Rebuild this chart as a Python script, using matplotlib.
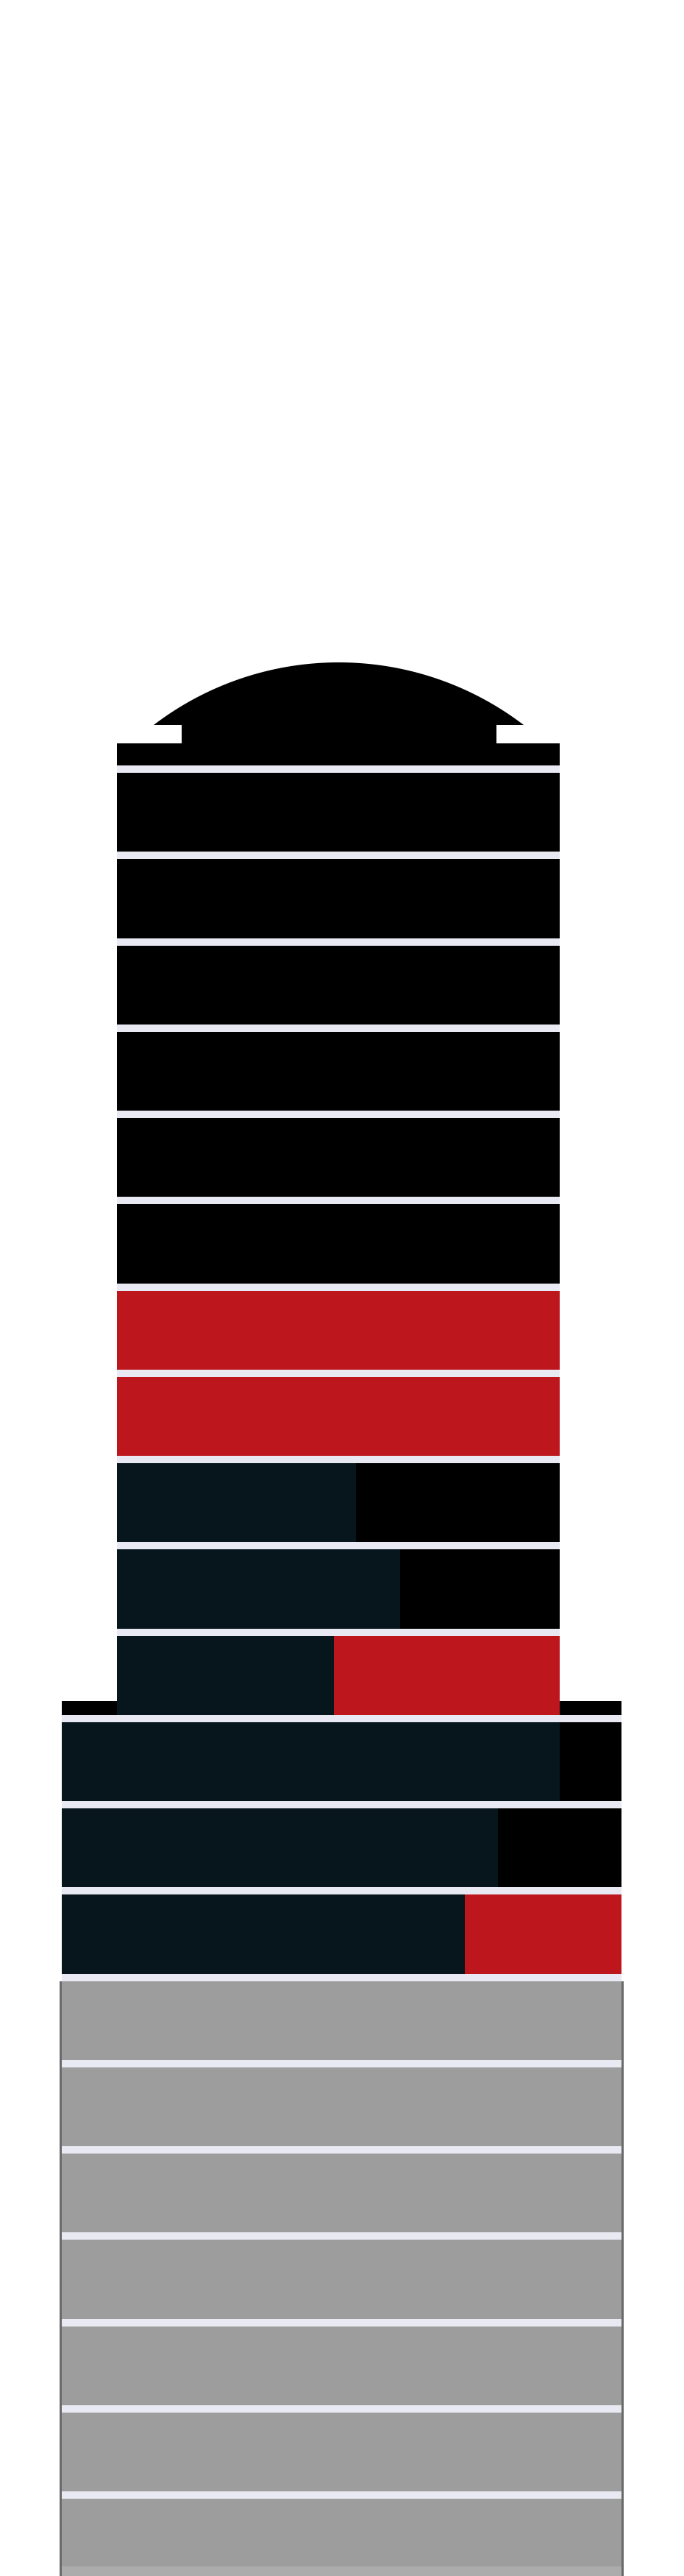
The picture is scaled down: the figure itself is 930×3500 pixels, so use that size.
import numpy as np
import matplotlib.pyplot as plt
from matplotlib.patches import Polygon

# floors listed from the top of the tower down to the ground floor
floor_names = ["F21", "F20", "F19", "F18", "F17", "F16", "F15", "F14", "F13", "F12", "F11",
               "F10", "F9", "F8", "F7", "F6", "F5", "F4", "F3", "F2", "F1"]
# share of each floor filled with the dark navy part
navy_share = [0, 0, 0, 0, 0, 0, 0, 0, 0.54, 0.64, 0.49,
              0.89, 0.78, 0.72, 0, 0, 0, 0, 0, 0, 0]
# what fills the rest of the floor
rest_kind = ["black", "black", "black", "black", "black", "black", "red", "red",
             "black", "black", "red",
             "black", "black", "red",
             "grey", "grey", "grey", "grey", "grey", "grey", "grey"]

colors = {"black": "#000000", "red": "#bd161d", "grey": "#9d9d9d"}
navy = "#06161c"
line_color = "#e9e9f3"

# layout (pixels)
W, H = 930, 3500
tower = (159, 761)
base = (83.5, 845)
n_tower = 11
first_line = 1040
pitch = 117.25
gap = 10

fig = plt.figure(figsize=(W / 100, H / 100), dpi=100)
ax = fig.add_axes([0, 0, 1, 1])
ax.set_xlim(0, W)
ax.set_ylim(H, 0)
ax.axis("off")

# dome on top: circular segment
dome_l, dome_r, dome_base, dome_top = 209, 712, 985, 900
a = (dome_r - dome_l) / 2
s = dome_base - dome_top
R = (a * a + s * s) / (2 * s)
cx, cy = (dome_l + dome_r) / 2, dome_top + R
t = np.linspace(-np.arcsin(a / R), np.arcsin(a / R), 200)
pts = np.column_stack([cx + R * np.sin(t), cy - R * np.cos(t)])
ax.add_patch(Polygon(pts, closed=True, color="#000000", lw=0))

# neck under the dome and the tower roof
ax.barh((983 + 1012) / 2, 675 - 247, left=247, height=1012 - 983, color="#000000")
ax.barh((1010 + first_line) / 2, tower[1] - tower[0], left=tower[0],
        height=first_line - 1010, color="#000000")

# roof of the lower block
lower_top = first_line + n_tower * pitch
ax.barh((2311 + lower_top) / 2, base[1] - base[0], left=base[0],
        height=lower_top - 2311, color="#000000")

# soft dark edge along the empty (grey) floors
first_grey = rest_kind.index("grey")
grey_top = first_line + first_grey * pitch + gap
ax.barh((grey_top + H) / 2, base[1] - base[0] + 6, left=base[0] - 3,
        height=H - grey_top, color="#6a6a6a")

for i, name in enumerate(floor_names):
    x0, x1 = tower if i < n_tower else base
    width = x1 - x0
    top = first_line + i * pitch
    h = pitch - gap
    if i == len(floor_names) - 1:
        h = H - top - gap + 5
    yc = top + gap + h / 2
    ax.barh(top + gap / 2, width, left=x0, height=gap, color=line_color)
    nw = navy_share[i] * width
    if nw > 0:
        ax.barh(yc, nw, left=x0, height=h, color=navy)
    ax.barh(yc, width - nw, left=x0 + nw, height=h, color=colors[rest_kind[i]])

# ground strip at the very bottom
ax.barh((3487 + H) / 2, base[1] - base[0], left=base[0], height=H - 3487, color="#acacac")

fig.savefig("out.png", dpi=100, facecolor="white")
